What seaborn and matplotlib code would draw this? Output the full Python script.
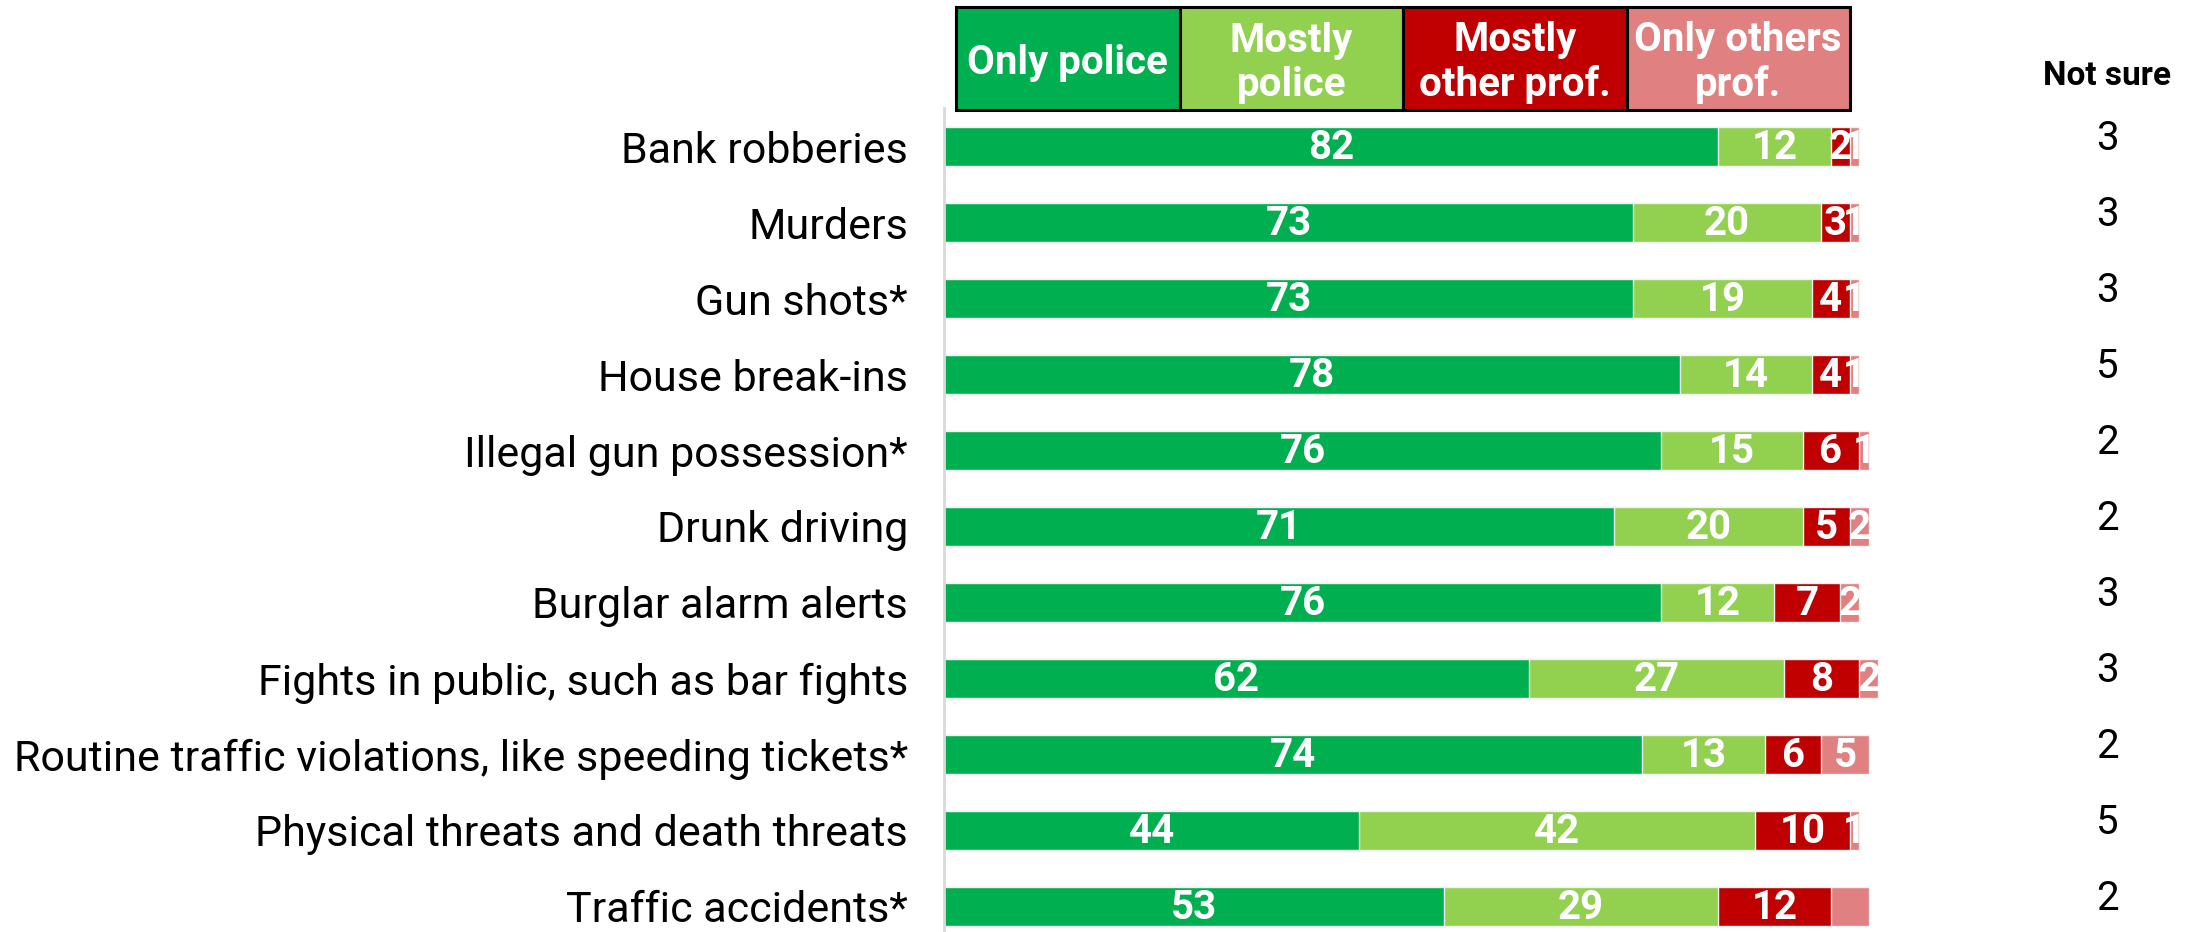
import numpy as np
import pandas as pd
import matplotlib
matplotlib.use("Agg")
import matplotlib.pyplot as plt
from matplotlib.patches import Rectangle
import seaborn as sns

# ---- survey data (percent of respondents) ----
categories = [
    "Bank robberies",
    "Murders",
    "Gun shots*",
    "House break-ins",
    "Illegal gun possession*",
    "Drunk driving",
    "Burglar alarm alerts",
    "Fights in public, such as bar fights",
    "Routine traffic violations, like speeding tickets*",
    "Physical threats and death threats",
    "Traffic accidents*",
]
only_police = [82, 73, 73, 78, 76, 71, 76, 62, 74, 44, 53]
mostly_police = [12, 20, 19, 14, 15, 20, 12, 27, 13, 42, 29]
mostly_other = [2, 3, 4, 4, 6, 5, 7, 8, 6, 10, 12]
only_other = [1, 1, 1, 1, 1, 2, 2, 2, 5, 1, 4]
not_sure = [3, 3, 3, 5, 2, 2, 3, 3, 2, 5, 2]

series_names = ["Only police", "Mostly police", "Mostly other prof.", "Only others prof."]
legend_labels = ["Only police", "Mostly\npolice", "Mostly\nother prof.", "Only others\nprof."]
colors = ["#00B050", "#92D050", "#C00000", "#E08081"]
# segments printed without a value
unlabelled = {("Traffic accidents*", "Only others prof.")}

sns.set_theme(style="white")
plt.rcParams["font.family"] = ["Roboto", "DejaVu Sans"]

W, H = 2204, 932
fig = plt.figure(figsize=(W / 100, H / 100), dpi=100)

# main bar axes placed in pixel terms
x0_px, x100_px = 944, 1887.5
top_px, bot_px = 108, 932
ax = fig.add_axes([x0_px / W, 1 - bot_px / H, (x100_px - x0_px) / W, (bot_px - top_px) / H])

df = pd.DataFrame({
    "category": categories,
    series_names[0]: only_police,
    series_names[1]: mostly_police,
    series_names[2]: mostly_other,
    series_names[3]: only_other,
})
cum = df[series_names].cumsum(axis=1)

# stacked bars: draw cumulative totals from the outermost layer inwards
for name, col in reversed(list(zip(series_names, colors))):
    sns.barplot(data=cum.assign(category=categories), x=name, y="category",
                orient="h", color=col, width=0.51, ax=ax,
                edgecolor="#f2f2f2", linewidth=1.0, saturation=1)

# value labels centred on each segment
for i, cat in enumerate(categories):
    left = 0
    for name in series_names:
        v = df.loc[i, name]
        if (cat, name) not in unlabelled:
            ax.text(left + v / 2, i + 0.02, f"{v}", ha="center", va="center",
                    color="white", fontsize=29, fontweight="bold")
        left += v

ax.set_xlim(0, 100)
ax.set_ylim(10.336, -0.507)
ax.set_xlabel("")
ax.set_ylabel("")
ax.set_xticks([])
ax.set_yticks(range(len(categories)))
ax.set_yticklabels(categories, fontsize=31, color="black")
ax.tick_params(axis="y", length=0, pad=26)
for s in ["top", "right", "bottom"]:
    ax.spines[s].set_visible(False)
ax.spines["left"].set_color("#d9d9d9")
ax.spines["left"].set_linewidth(2)

# "Not sure" column
fig.text(2107 / W, 1 - 76 / H, "Not sure", ha="center", va="center",
         fontsize=24, fontweight="bold", color="black")
for i, v in enumerate(not_sure):
    ax.text(1.0 + (2107 - x100_px) / (x100_px - x0_px), i - 0.1, f"{v}",
            transform=ax.get_yaxis_transform(), ha="center", va="center",
            fontsize=29, color="black", clip_on=False)

# colour key across the top
lax = fig.add_axes([956 / W, 1 - 110 / H, 894 / W, 103 / H])
lax.set_xlim(0, 4)
lax.set_ylim(0, 1)
lax.axis("off")
for k, (lab, col) in enumerate(zip(legend_labels, colors)):
    lax.add_patch(Rectangle((k, 0), 1, 1, facecolor=col, edgecolor="black",
                            linewidth=2.2, clip_on=False))
    lax.text(k + 0.5, 0.46, lab, ha="center", va="center", color="white",
             fontsize=29, fontweight="bold", linespacing=1.2)

fig.savefig("out.png", dpi=100, facecolor="white")
